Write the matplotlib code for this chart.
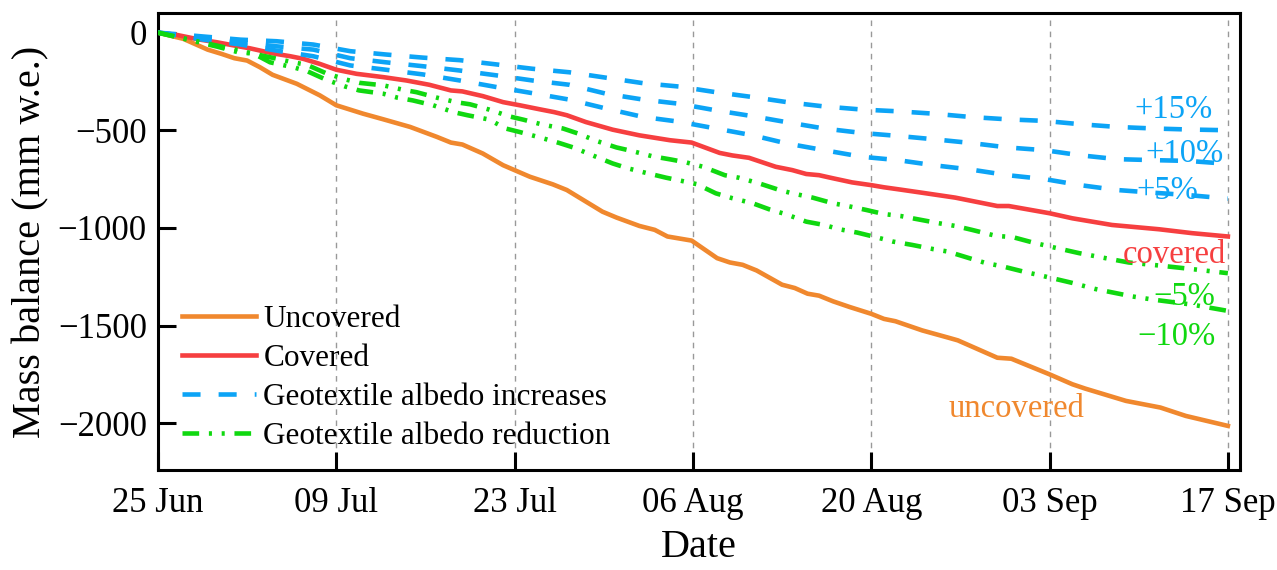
import matplotlib
matplotlib.use("Agg")
import matplotlib.pyplot as plt
import matplotlib.dates as mdates
import numpy as np
import pandas as pd

plt.rcParams['font.family'] = ['Liberation Serif', 'DejaVu Serif']
plt.rcParams['lines.scale_dashes'] = False

start_date = "2021-06-25"
tick_labels = ["25 Jun", "09 Jul", "23 Jul", "06 Aug", "20 Aug", "03 Sep", "17 Sep"]

# day offsets from 25 Jun and mass balance (mm w.e.)
unc_day = [0, 2.0, 3.9, 5.0, 6.0, 7.0, 8.0, 9.0, 10.9, 12.7, 14.0, 16.1, 17.7, 19.8, 21.9, 23.0, 23.9,
           25.5, 27.1, 29.2, 31.0, 32.1, 34.9, 36.0, 37.8, 39.0, 40.0, 41.9, 43.9, 44.9, 45.9, 47.0,
           49.0, 50.0, 51.0, 51.9, 53.0, 54.3, 56.0, 57.0, 57.9, 60.0, 62.1, 62.8, 65.9, 67.0, 70.0,
           71.8, 72.8, 76.0, 78.7, 80.7, 84.0]
unc_val = [0, -32, -87, -109, -131, -143, -177, -216, -262, -321, -372, -415, -444, -483, -534, -563, -573,
           -619, -679, -738, -777, -806, -917, -947, -990, -1010, -1044, -1065, -1155, -1177, -1189, -1218,
           -1291, -1308, -1337, -1347, -1376, -1405, -1440, -1466, -1478, -1525, -1563, -1576, -1665, -1670, -1750,
           -1801, -1823, -1886, -1920, -1963, -2014]

cov_day = [0, 1.5, 3.3, 4.6, 6.4, 7.2, 9.0, 10.4, 11.4, 12.7, 14.0, 15.6, 17.7, 19.5, 21.3, 23.0, 23.9,
           25.5, 27.1, 28.4, 30.0, 31.1, 32.1, 33.6, 35.7, 37.8, 40.2, 41.9, 44.1, 45.1, 46.4, 48.5, 49.8,
           50.9, 51.9, 53.0, 54.5, 56.0, 57.0, 58.2, 60.0, 62.6, 65.9, 66.8, 70.0, 71.8, 74.9, 78.6, 81.2, 84.0]
cov_val = [0, -12, -36, -49, -71, -80, -106, -121, -134, -160, -190, -211, -228, -245, -267, -296, -301,
           -325, -356, -372, -393, -407, -423, -458, -497, -526, -551, -563, -616, -629, -641, -687, -704,
           -724, -730, -746, -767, -781, -792, -803, -820, -845, -888, -888, -925, -951, -985, -1007, -1027, -1044]

blue_day = [0, 3.6, 6.5, 9.3, 12.2, 15.1, 17.9, 20.8, 23.7, 26.6, 29.4, 32.3, 35.2, 38.1, 40.9, 43.8,
            46.7, 49.4, 52.3, 55.3, 58.1, 60.9, 63.8, 66.7, 69.6, 72.4, 75.3, 78.2, 80.9, 84.0]
p15_val = [0, -20, -36, -44, -61, -95, -112, -128, -141, -163, -185, -203, -231, -259, -276, -305,
           -330, -356, -378, -394, -403, -415, -432, -444, -452, -469, -483, -491, -496, -500]
p10_val = [0, -29, -49, -70, -87, -131, -152, -172, -194, -219, -245, -267, -313, -343, -364, -398,
           -428, -459, -491, -514, -529, -546, -565, -588, -602, -628, -648, -653, -657, -672]
p05_val = [0, -36, -61, -92, -121, -168, -190, -214, -245, -279, -310, -343, -389, -432, -456, -491,
           -526, -568, -602, -636, -653, -679, -701, -730, -750, -781, -806, -820, -832, -850]

m05_day = [0, 4.6, 6.4, 8.8, 10.6, 11.7, 13.2, 14.8, 15.8, 17.7, 19.2, 20.3, 21.9, 23.4, 24.5, 26.0,
           27.6, 28.7, 30.2, 31.8, 33.0, 34.4, 36.0, 37.2, 38.8, 40.3, 41.5, 42.8, 44.5, 45.6, 47.2,
           48.8, 49.8, 51.4, 53.0, 54.0, 55.6, 57.0, 58.3, 59.5, 61.3, 62.6, 63.9, 65.8, 67.1, 68.7,
           70.2, 72.3, 74.4, 76.2, 78.8, 81.2, 84.0]
m05_val = [0, -66, -92, -126, -152, -165, -208, -241, -257, -270, -292, -305, -333, -356, -367, -394,
           -429, -446, -471, -491, -517, -554, -588, -606, -633, -650, -665, -687, -730, -743, -772,
           -806, -823, -845, -874, -886, -908, -929, -939, -954, -976, -990, -1010, -1041, -1047, -1075,
           -1098, -1129, -1155, -1177, -1194, -1211, -1232]

m10_day = [0, 4.6, 6.4, 7.5, 8.8, 10.6, 11.7, 13.2, 14.7, 15.8, 17.7, 18.8, 20.0, 21.6, 23.2, 24.3,
           26.0, 27.3, 28.4, 30.0, 31.5, 32.7, 34.1, 35.7, 36.9, 38.3, 39.9, 41.1, 42.3, 43.8, 45.1,
           46.7, 48.0, 49.3, 50.9, 52.3, 53.5, 54.9, 56.4, 57.7, 59.2, 60.9, 62.0, 63.7, 65.0, 66.3,
           67.9, 69.4, 71.8, 73.6, 74.9, 76.5, 78.1, 81.2, 84.0]
m10_val = [0, -71, -102, -107, -152, -177, -197, -241, -276, -296, -313, -333, -347, -372, -407, -423,
           -445, -491, -509, -537, -565, -590, -628, -670, -695, -718, -743, -759, -776, -823, -848,
           -874, -905, -930, -968, -985, -1007, -1024, -1048, -1070, -1087, -1109, -1121, -1155, -1180, -1197,
           -1223, -1245, -1282, -1313, -1330, -1351, -1367, -1393, -1425]

c_orange = "#F0882E"
c_red = "#F63F40"
c_blue = "#0CA4F6"
c_green = "#10D810"

base = pd.Timestamp(start_date)
def to_dates(days):
    return base + pd.to_timedelta(np.asarray(days, dtype=float), unit="D")

fig = plt.figure(figsize=(12.77, 5.70), dpi=100)
ax = fig.add_axes([0.1237, 0.1754, 0.9710 - 0.1237, 0.977 - 0.1754])

lw = 3.3
blue_dash = (0, (13, 13))
green_dash = (0, (12, 7, 2.2, 7, 2.2, 7))

ax.plot(to_dates(unc_day), unc_val, color=c_orange, lw=lw, label="Uncovered", zorder=3)
ax.plot(to_dates(cov_day), cov_val, color=c_red, lw=lw, label="Covered", zorder=3)
ax.plot(to_dates(blue_day), p15_val, color=c_blue, lw=lw, ls=blue_dash, label="Geotextile albedo increases", zorder=3)
ax.plot(to_dates(blue_day), p10_val, color=c_blue, lw=lw, ls=blue_dash, zorder=3)
ax.plot(to_dates(blue_day), p05_val, color=c_blue, lw=lw, ls=blue_dash, zorder=3)
ax.plot(to_dates(m05_day), m05_val, color=c_green, lw=lw, ls=green_dash, label="Geotextile albedo reduction", zorder=3)
ax.plot(to_dates(m10_day), m10_val, color=c_green, lw=lw, ls=green_dash, zorder=3)

tick_dates = [base + pd.Timedelta(days=14 * i) for i in range(len(tick_labels))]
ax.set_xticks(tick_dates)
ax.set_xticklabels(tick_labels)
ax.set_xlim(base, base + pd.Timedelta(days=84.95))
ax.set_ylim(-2240, 100)
ax.set_yticks([0, -500, -1000, -1500, -2000])

for d in tick_dates[1:]:
    ax.axvline(d, color="#999999", lw=1.0, ls=(0, (4, 4)), zorder=1)

ax.tick_params(axis="both", direction="in", length=13, width=2.2, labelsize=25)
ax.tick_params(axis="x", pad=12)
ax.tick_params(axis="y", pad=8)
for s in ax.spines.values():
    s.set_linewidth(2.2)

ax.set_xlabel("Date", fontsize=29, labelpad=7)
ax.set_ylabel("Mass balance (mm w.e.)", fontsize=29, labelpad=6)

fs = 23.5
ax.text(to_dates([82.8])[0], -395, "+15%", color=c_blue, fontsize=fs, ha="right", va="center")
ax.text(to_dates([83.7])[0], -620, "+10%", color=c_blue, fontsize=fs, ha="right", va="center")
ax.text(to_dates([81.7])[0], -810, "+5%", color=c_blue, fontsize=fs, ha="right", va="center")
ax.text(to_dates([83.85])[0], -1140, "covered", color=c_red, fontsize=fs, ha="right", va="center")
ax.text(to_dates([83.0])[0], -1355, "\u22125%", color=c_green, fontsize=fs, ha="right", va="center")
ax.text(to_dates([83.0])[0], -1560, "\u221210%", color=c_green, fontsize=fs, ha="right", va="center")
ax.text(to_dates([72.7])[0], -1925, "uncovered", color=c_orange, fontsize=fs, ha="right", va="center")

ax.legend(loc="lower left", bbox_to_anchor=(0.005, 0.0), frameon=False, fontsize=22.5,
          handlelength=2.35, handletextpad=0.25, labelspacing=0.32, borderaxespad=0.2)

fig.savefig("out.png", dpi=100)
